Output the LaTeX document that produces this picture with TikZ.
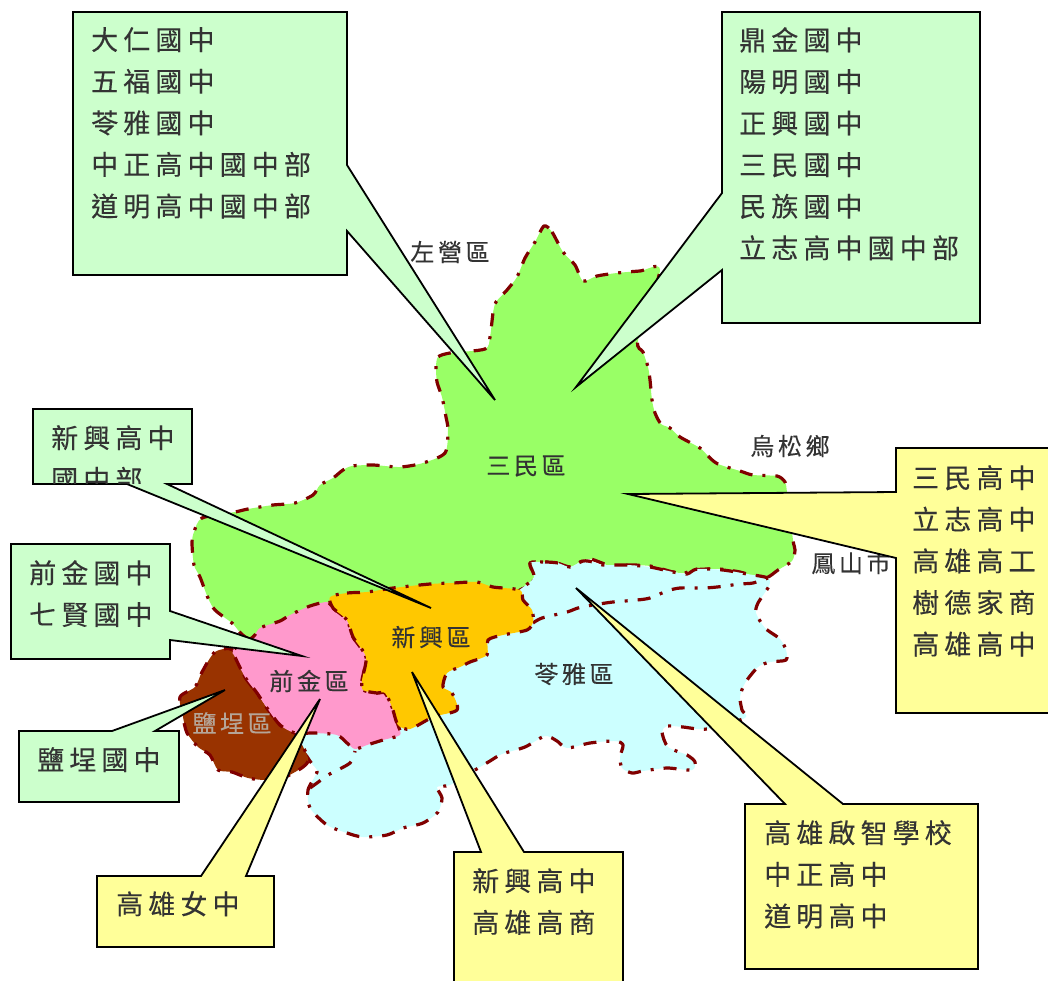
\documentclass[tikz,border=0pt]{standalone}
\usepackage{fontspec}
\setmainfont{Noto Sans CJK TC}
\newfontfamily\boxfont[LetterSpace=19,FakeBold=0.25]{Noto Sans CJK TC}
\newfontfamily\mapfont[LetterSpace=15,FakeBold=0.25]{Noto Sans CJK TC}
\definecolor{border}{HTML}{800000}
\definecolor{callgreen}{HTML}{CCFFCC}
\definecolor{callyellow}{HTML}{FFFF99}
\definecolor{sanmin}{HTML}{99FF66}
\definecolor{xinxing}{HTML}{FFC800}
\definecolor{qianjin}{HTML}{FF99CC}
\definecolor{yancheng}{HTML}{993300}
\definecolor{lingya}{HTML}{CCFFFF}
\definecolor{ink}{HTML}{333333}
\definecolor{paleink}{HTML}{B5A598}
\tikzset{
  region/.style={draw=border,line width=3.2pt,dash pattern=on 13pt off 10pt on 3pt off 10pt,line join=round},
  callg/.style={draw=black,line width=1.8pt,fill=callgreen,line join=miter},
  cally/.style={draw=black,line width=1.8pt,fill=callyellow,line join=miter},
  boxtext/.style={anchor=north west,inner sep=0pt,align=left,text=ink,font=\boxfont\fontsize{27}{41.6}\selectfont},
  maptext/.style={inner sep=0pt,text=ink,font=\mapfont\fontsize{24}{28}\selectfont},
}
\begin{document}
\begin{tikzpicture}[x=1pt,y=-1pt]
\useasboundingbox (0,0) rectangle (1048,980);
\fill[white] (0,0) rectangle (1048,980);
\begin{scope}
\clip (0,0) rectangle (1048,980);
% Sanmin
\filldraw[region,fill=sanmin] plot[smooth cycle,tension=0.45] coordinates {
(544,226)(552,232)(563,252)(575,265)(583,281)(597,276)(617,273)(640,271)(660,270)
(638,340)(643,352)(648,367)(650,380)(652,400)(655,413)(661,424)(670,428)(680,437)(700,448)(709,457)(718,464)(740,471)(753,475)(777,476)(785,482)(787,492)
(793,540)(795,550)(792,561)(778,570)(768,577)(757,577)(740,572)(720,569)(707,569)(693,570)(685,573)(673,572)(650,566)(627,565)(613,567)(602,563)(590,559)(580,562)(570,567)(557,563)(543,562)(530,563)(534,577)(530,587)(520,590)
(477,620)(330,640)(253,640)(232,623)(215,610)(208,598)(200,577)(194,565)(192,543)(194,532)(202,518)(235,512)(248,509)(273,505)(295,503)(313,495)(320,485)(333,478)(343,470)(352,466)(373,465)(400,467)(423,463)(445,453)(448,430)(446,417)(442,397)(437,382)(436,367)(438,357)(450,353)(485,349)(490,337)(493,313)(496,302)(507,290)(517,277)(525,258)(535,242)};
% Lingya
\filldraw[region,fill=lingya] plot[smooth cycle,tension=0.45] coordinates {
(530,563)(545,562)(558,563)(570,567)(583,561)(593,562)(603,565)(627,565)(650,567)(673,572)(687,574)(697,569)(723,570)(747,574)(768,578)(769,586)(758,603)(756,613)(765,628)(780,639)(786,650)(786,660)(770,662)(758,667)(745,683)(740,697)(742,710)(745,718)(707,729)(683,727)(667,726)(662,732)(668,747)(687,755)(695,762)(692,770)(667,768)(643,771)(632,773)(622,768)(620,757)(623,745)(615,741)(590,743)(567,748)(557,741)(545,736)(525,747)(502,754)(490,761)(475,770)(450,785)(437,787)(442,798)(438,812)(423,823)(403,828)(387,835)(363,837)(347,833)(327,825)(310,808)(308,790)(317,772)(313,765)(308,758)(295,733)(340,700)(450,640)(522,588)(534,577)};
\draw[region] plot[smooth,tension=0.45] coordinates {(533,623)(542,618)(567,612)(578,608)(593,605)(613,602)(637,600)(650,598)(667,591)(680,588)(703,588)(717,587)(740,584)(753,583)(768,578)};
\draw[region] plot[smooth,tension=0.45] coordinates {(310,788)(317,783)(328,775)(350,763)(355,751)};
% Yancheng
\filldraw[region,fill=yancheng] plot[smooth cycle,tension=0.45] coordinates {
(233,650)(245,677)(257,693)(267,708)(280,725)(295,733)(308,758)(303,767)(283,778)(265,780)(248,778)(232,772)(218,770)(210,755)(198,747)(187,733)(183,717)(180,697)(195,687)(202,672)(215,652)};
% Qianjin
\filldraw[region,fill=qianjin] plot[smooth cycle,tension=0.45] coordinates {
(327,602)(333,608)(347,620)(353,637)(366,657)(362,680)(363,690)(377,693)(385,693)(392,707)(398,725)(400,735)(383,740)(367,745)(355,749)(347,743)(337,735)(315,733)(295,733)(280,725)(267,708)(257,693)(245,677)(235,657)(233,650)(253,637)(260,628)(280,621)(290,615)(310,606)};
% Xinxing
\filldraw[region,fill=xinxing] plot[smooth cycle,tension=0.45] coordinates {
(330,597)(347,593)(367,592)(393,588)(430,584)(453,583)(477,582)(493,587)(520,590)(523,600)(532,610)(533,622)(527,630)(503,635)(488,640)(487,655)(470,662)(460,667)(447,673)(443,687)(452,693)(457,710)(433,717)(410,729)(398,725)(392,707)(385,693)(377,693)(363,690)(362,680)(366,657)(353,637)(347,620)(333,608)};
% map labels
\node[maptext] (zuoying) at (450,252) {左營區};
\node[maptext] (niaosong) at (790,446) {烏松鄉};
\node[maptext] (fengshan) at (851,563) {鳳山市};
\node[maptext] (sanminl) at (526,466) {三民區};
\node[maptext] (xinxingl) at (431,637) {新興區};
\node[maptext] (qianjinl) at (309,681) {前金區};
\node[maptext,text=paleink] (yanchengl) at (232,723) {鹽埕區};
\node[maptext] (lingyal) at (574,674) {苓雅區};
% callouts
\draw[callg] (73,12)--(347,12)--(347,165)--(495,400)--(347,231)--(347,275)--(73,275)--cycle;
\node[boxtext] (t1) at (91,27) {大仁國中\\五福國中\\苓雅國中\\中正高中國中部\\道明高中國中部};
\draw[callg] (722,12)--(980,12)--(980,323)--(722,323)--(722,270)--(576,387)--(722,193)--cycle;
\node[boxtext] (t2) at (739,27) {鼎金國中\\陽明國中\\正興國中\\三民國中\\民族國中\\立志高中國中部};
\draw[callg] (33,409)--(192,409)--(192,484)--(167,484)--(431,608)--(127,484)--(33,484)--cycle;
\begin{scope}
\clip (33,409) rectangle (192,483);
\node[boxtext] (t3) at (51,425) {新興高中\\國中部};
\end{scope}
\draw[callg] (11,544)--(170,544)--(170,611)--(302,656)--(170,640)--(170,659)--(11,659)--cycle;
\node[boxtext] (t4) at (29,560) {前金國中\\七賢國中};
\draw[callg] (19,731)--(112,731)--(225,690)--(155,731)--(179,731)--(179,802)--(19,802)--cycle;
\node[boxtext] (t5) at (37,747) {鹽埕國中};
\draw[cally] (97,876)--(201,876)--(320,699)--(246,876)--(274,876)--(274,947)--(97,947)--cycle;
\node[boxtext] (t6) at (116,891) {高雄女中};
\draw[cally] (454,852)--(481,852)--(412,672)--(524,852)--(623,852)--(623,1000)--(454,1000)--cycle;
\node[boxtext] (t7) at (472,868) {新興高中\\高雄高商};
\draw[cally] (745,804)--(785,804)--(576,588)--(843,804)--(978,804)--(978,969)--(745,969)--cycle;
\node[boxtext] (t8) at (764,820) {高雄啟智學校\\中正高中\\道明高中};
\draw[cally] (896,448)--(1060,448)--(1060,713)--(896,713)--(896,558)--(628,494)--(896,492)--cycle;
\node[boxtext] (t9) at (912,465) {三民高中\\立志高中\\高雄高工\\樹德家商\\高雄高中};
\end{scope}
\end{tikzpicture}
\end{document}
